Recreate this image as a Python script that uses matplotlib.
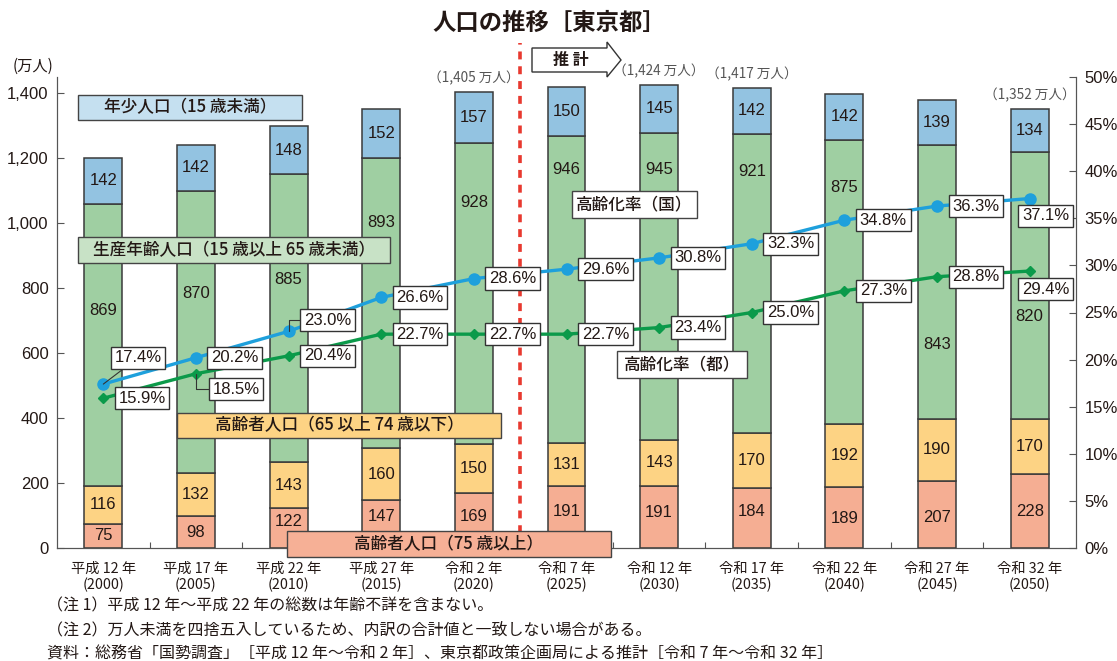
import numpy as np
import matplotlib
matplotlib.use("Agg")
import matplotlib.pyplot as plt
from matplotlib.patches import Rectangle, Polygon

plt.rcParams['font.family'] = ['Noto Sans CJK JP', 'DejaVu Sans']

# --- data -------------------------------------------------------------
era_labels = ["平成 12 年", "平成 17 年", "平成 22 年", "平成 27 年", "令和 2 年",
              "令和 7 年", "令和 12 年", "令和 17 年", "令和 22 年", "令和 27 年",
              "令和 32 年"]
years = ["2000", "2005", "2010", "2015", "2020", "2025", "2030", "2035",
         "2040", "2045", "2050"]

pop_75_over = [75, 98, 122, 147, 169, 191, 191, 184, 189, 207, 228]
pop_65_74 = [116, 132, 143, 160, 150, 131, 143, 170, 192, 190, 170]
pop_15_64 = [869, 870, 885, 893, 928, 946, 945, 921, 875, 843, 820]
pop_0_14 = [142, 142, 148, 152, 157, 150, 145, 142, 142, 139, 134]

rate_japan = [17.4, 20.2, 23.0, 26.6, 28.6, 29.6, 30.8, 32.3, 34.8, 36.3, 37.1]
rate_tokyo = [15.9, 18.5, 20.4, 22.7, 22.7, 22.7, 23.4, 25.0, 27.3, 28.8, 29.4]

total_index = [4, 6, 7, 10]
total_text = ["1,405", "1,424", "1,417", "1,352"]

notes = [
    "（注 1）平成 12 年〜平成 22 年の総数は年齢不詳を含まない。",
    "（注 2）万人未満を四捨五入しているため、内訳の合計値と一致しない場合がある。",
    "資料：総務省「国勢調査」［平成 12 年〜令和 2 年］、東京都政策企画局による推計［令和 7 年〜令和 32 年］",
]

# --- layout helpers (label placement, not data) -------------------------
green_label_y = [732, 782, 828, 1003, 1064, 1166, 1166, 1160, 1111, 625, 714]
salmon_label_y = [37, 49, 83, 98, 98, 111, 108, 111, 92, 95, 111]

# offsets (points) of percent boxes from their points
japan_offsets = [(25, 19), (28, 0), (28, 8), (28, 0), (28, 0), (28, 0),
                 (28, 0), (28, 0), (28, 0), (28, 0), (11.5, -12.5)]
tokyo_offsets = [(28, 0), (29, -11), (28, 0), (28, 0), (28, 0), (28, 0),
                 (28, 0), (28, 0), (28, 0), (28, 0), (11.5, -13)]
japan_leader = {0: "arc3", 2: "angle,angleA=0,angleB=90,rad=0"}
tokyo_leader = {1: "angle,angleA=0,angleB=90,rad=0"}

C_BLUE = "#93c3e1"
C_GREEN = "#9fcfa2"
C_ORANGE = "#fdd384"
C_SALMON = "#f5ae93"
C_LINE_JP = "#1ea0dc"
C_LINE_TK = "#0b9a4a"
C_TEXT = "#231815"
C_EDGE = "#3a3a3a"

W, H = 1117, 661
NUM_FONT = ['Liberation Sans', 'DejaVu Sans']


def px(x, y):
    return (x / W, 1 - y / H)


def label_box(fig, x0, y0, x1, y1, text, color):
    fig.add_artist(Rectangle(px(x0, y1), (x1 - x0) / W, (y1 - y0) / H,
                             transform=fig.transFigure, facecolor=color,
                             edgecolor="#444444", lw=1.0, zorder=5))
    fig.text((x0 + x1) / 2 / W, 1 - (y0 + y1) / 2 / H, text, ha='center',
             va='center', fontsize=12, fontweight='medium', color=C_TEXT,
             zorder=6)


def main():
    fig = plt.figure(figsize=(W / 100, H / 100), dpi=100)
    ax = fig.add_axes([57 / W, 1 - 548 / H, (1076 - 57) / W, (548 - 77) / H])

    x = np.arange(len(years))
    width = 0.41
    stacks = [pop_75_over, pop_65_74, pop_15_64, pop_0_14]
    colors = [C_SALMON, C_ORANGE, C_GREEN, C_BLUE]
    bottom = np.zeros(len(x))
    for vals, col in zip(stacks, colors):
        ax.bar(x, vals, width, bottom=bottom, color=col, edgecolor=C_EDGE,
               lw=1.1, zorder=2)
        bottom += np.array(vals)
    totals = bottom

    # values inside bars
    for i in x:
        ax.text(i, salmon_label_y[i], str(pop_75_over[i]), ha='center',
                va='center', fontsize=12, family=NUM_FONT, color=C_TEXT, zorder=3)
        ax.text(i, pop_75_over[i] + pop_65_74[i] / 2, str(pop_65_74[i]),
                ha='center', va='center', fontsize=12, family=NUM_FONT,
                color=C_TEXT, zorder=3)
        ax.text(i, green_label_y[i], str(pop_15_64[i]), ha='center',
                va='center', fontsize=12, family=NUM_FONT, color=C_TEXT, zorder=3)
        ax.text(i, totals[i] - pop_0_14[i] / 2, str(pop_0_14[i]), ha='center',
                va='center', fontsize=12, family=NUM_FONT, color=C_TEXT, zorder=3)

    for i, t in zip(total_index, total_text):
        ax.annotate("（" + t + " 万人）", (i, totals[i]), xytext=(0, 10),
                    textcoords='offset points', ha='center', va='center',
                    fontsize=9.8, color="#555555", annotation_clip=False)

    ax.set_xlim(-0.5, 10.5)
    ax.set_ylim(0, 1450)
    ax.set_yticks(range(0, 1401, 200))
    ax.set_yticklabels([f"{v:,}" for v in range(0, 1401, 200)],
                       family=NUM_FONT, fontsize=12, color=C_TEXT)
    ax.set_xticks(np.arange(0.5, 10, 1))
    ax.set_xticklabels([])
    ax.set_xticks(x, minor=True)
    ax.set_xticklabels([f"{e}\n({y})" for e, y in zip(era_labels, years)],
                       minor=True, fontsize=10.3, color=C_TEXT, linespacing=1.15)
    ax.tick_params(axis='x', which='major', direction='in', length=4,
                   color="#555555")
    ax.tick_params(axis='x', which='minor', length=0, pad=10)
    ax.tick_params(axis='y', direction='in', length=5, color="#555555", pad=6)
    ax.spines['top'].set_visible(False)
    for s in ['left', 'right', 'bottom']:
        ax.spines[s].set_color("#555555")

    # forecast divider
    ax.axvline(4.5, ymin=0, ymax=(548 - 43) / (548 - 77), color="#e8392f",
               lw=2.6, ls=(0, (2.2, 1.9)), clip_on=False, zorder=4)

    # ageing rate lines
    ax2 = ax.twinx()
    ax2.set_ylim(0, 50)
    ax2.set_yticks(range(0, 51, 5))
    ax2.set_yticklabels([f"{v}%" for v in range(0, 51, 5)], family=NUM_FONT,
                        fontsize=12, color=C_TEXT)
    ax2.tick_params(axis='y', direction='in', length=5, color="#555555", pad=6)
    ax2.spines['top'].set_visible(False)
    for s in ['left', 'right', 'bottom']:
        ax2.spines[s].set_color("#555555")

    ax2.plot(x, rate_japan, color=C_LINE_JP, lw=2.4, marker='o', ms=8,
             zorder=5)
    ax2.plot(x, rate_tokyo, color=C_LINE_TK, lw=2.4, marker='D', ms=5,
             zorder=5)

    box = dict(boxstyle='square,pad=0.22', fc='white', ec='#333333', lw=1.0)
    for rates, offs, leaders in [(rate_japan, japan_offsets, japan_leader),
                                 (rate_tokyo, tokyo_offsets, tokyo_leader)]:
        for i, (r, off) in enumerate(zip(rates, offs)):
            arrow = None
            if i in leaders:
                arrow = dict(arrowstyle='-', color='#333333', lw=0.8,
                             shrinkA=0, shrinkB=0, connectionstyle=leaders[i])
            ax2.annotate(f"{r:.1f}%", (i, r), xytext=off,
                         textcoords='offset points', ha='center', va='center',
                         fontsize=12, family=NUM_FONT, color=C_TEXT, bbox=box,
                         arrowprops=arrow, zorder=6)

    # category boxes
    label_box(fig, 78, 95, 302, 120, "年少人口（15 歳未満）", "#c5e0f0")
    label_box(fig, 78, 237, 390, 263, "生産年齢人口（15 歳以上 65 歳未満）", "#c8e2c6")
    label_box(fig, 572, 191, 697, 218, "高齢化率（国）", "white")
    label_box(fig, 617, 351, 747, 378, "高齢化率（都）", "white")
    label_box(fig, 177, 413, 501, 438, "高齢者人口（65 以上 74 歳以下）", C_ORANGE)
    label_box(fig, 287, 531, 611, 557, "高齢者人口（75 歳以上）", "#f6b096")

    # forecast arrow
    pts = [(532, 48), (607, 48), (607, 42), (621, 60), (607, 77), (607, 72),
           (532, 72)]
    fig.add_artist(Polygon([px(a, b) for a, b in pts], closed=True,
                           transform=fig.transFigure, facecolor='white',
                           edgecolor='#333333', lw=1.0))
    fig.text(571 / W, 1 - 60 / H, "推 計", ha='center', va='center',
             fontsize=11.5, fontweight='bold', color=C_TEXT)

    fig.text(549 / W, 1 - 23 / H, "人口の推移［東京都］", ha='center',
             va='center', fontsize=16.8, fontweight='bold', color=C_TEXT)
    fig.text(33 / W, 1 - 66 / H, "(万人)", ha='center', va='center',
             fontsize=11, color=C_TEXT)

    for k, line in enumerate(notes):
        fig.text(47 / W, 1 - (606 + 24 * k) / H, line, ha='left', va='center',
                 fontsize=11.5, color=C_TEXT)

    fig.savefig("out.png", dpi=100)
    plt.close('all')


if __name__ == '__main__':
    main()
